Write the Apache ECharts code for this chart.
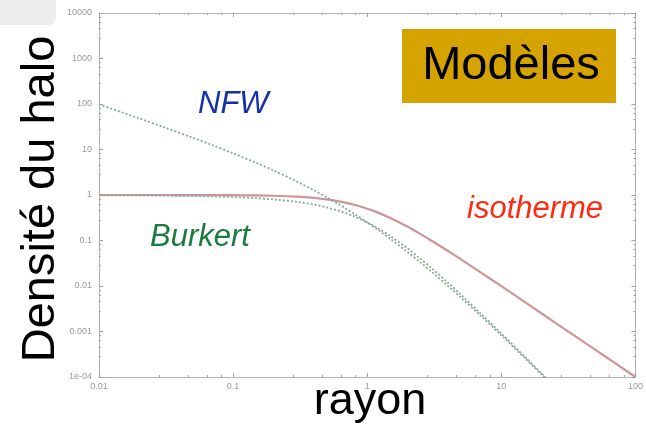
<!DOCTYPE html>
<html>
<head>
<meta charset="utf-8">
<script src="https://cdn.jsdelivr.net/npm/echarts@6/dist/echarts.min.js"></script>
<style>
  html, body { margin: 0; padding: 0; background: #ffffff; }
  #chart { width: 646px; height: 426px; }
</style>
</head>
<body>
<div id="chart"></div>
<script>
// Radii (log scale) at which the density profiles are sampled
const radii = [0.01, 0.02, 0.03, 0.05, 0.07, 0.1, 0.15, 0.2, 0.3, 0.4, 0.5, 0.6, 0.7, 0.8,
               1, 1.2, 1.5, 2, 2.5, 3, 4, 5, 7, 10, 15, 20, 30, 50, 70, 100];

// Isothermal sphere profile
const isothermeValues = [1.0, 1.0, 0.999, 0.998, 0.995, 0.99, 0.978, 0.962, 0.917, 0.862, 0.80, 0.735, 0.671, 0.61,
                         0.5, 0.41, 0.308, 0.2, 0.138, 0.1, 0.0588, 0.0385, 0.02, 0.0099, 0.00442, 0.00249, 0.0011, 0.0004, 0.000204, 0.0001];

// NFW profile (cusp), drops below the axis floor after r ~ 20
const nfwRadii  = [0.01, 0.02, 0.03, 0.05, 0.07, 0.1, 0.15, 0.2, 0.3, 0.4, 0.5, 0.6, 0.7, 0.8,
                   1, 1.2, 1.5, 2, 2.5, 3, 4, 5, 7, 10, 15, 20, 21];
const nfwValues = [98, 48.1, 31.4, 18.1, 12.5, 8.26, 5.04, 3.47, 1.97, 1.28, 0.889, 0.651, 0.494, 0.386,
                   0.25, 0.172, 0.107, 0.0556, 0.0327, 0.0208, 0.01, 0.00556, 0.00223, 0.000826, 0.00026, 0.000113, 0.0000984];

// Burkert profile (core)
const burkertRadii  = [0.01, 0.02, 0.03, 0.05, 0.07, 0.1, 0.15, 0.2, 0.3, 0.4, 0.5, 0.6, 0.7, 0.8,
                       1, 1.2, 1.5, 2, 2.5, 3, 4, 5, 7, 10, 15, 20, 22];
const burkertValues = [0.99, 0.98, 0.97, 0.95, 0.93, 0.90, 0.85, 0.80, 0.706, 0.616, 0.533, 0.46, 0.395, 0.339,
                       0.25, 0.186, 0.123, 0.0667, 0.0395, 0.025, 0.0118, 0.00641, 0.0025, 0.0009, 0.000276, 0.000119, 0.0000896];

// Tick labels, one per decade
const xTickLabels = ['0.01', '0.1', '1', '10', '100'];          // 1e-2 .. 1e2
const yTickLabels = ['1e-04', '0.001', '0.01', '0.1', '1', '10', '100', '1000', '10000']; // 1e-4 .. 1e4

const pair = (xs, ys) => xs.map((x, i) => [x, ys[i]]);
const decade = v => Math.round(Math.log10(v));

const chart = echarts.init(document.getElementById('chart'), null, { renderer: 'canvas' });

const tickFont = { fontFamily: 'Liberation Sans, Arial, sans-serif', fontSize: 9, color: '#9a9a9a' };
const axisLineStyle = { color: '#b4b4b4', width: 1 };
const tickStyle = { color: '#a0a0a0', width: 1 };

function xAxisDef(pos, showLabels) {
  return {
    type: 'log', logBase: 10, min: 0.01, max: 100, position: pos,
    axisLine: { show: true, onZero: false, lineStyle: axisLineStyle },
    axisTick: { show: true, inside: true, length: 4, lineStyle: tickStyle },
    minorTick: { show: true, splitNumber: 5, length: 2, lineStyle: tickStyle },
    splitLine: { show: false },
    axisLabel: {
      show: showLabels, margin: 5, ...tickFont,
      formatter: v => xTickLabels[decade(v) + 2]
    }
  };
}
function yAxisDef(pos, showLabels) {
  return {
    type: 'log', logBase: 10, min: 1e-4, max: 1e4, position: pos,
    axisLine: { show: true, onZero: false, lineStyle: axisLineStyle },
    axisTick: { show: true, inside: true, length: 4, lineStyle: tickStyle },
    minorTick: { show: true, splitNumber: 5, length: 2, lineStyle: tickStyle },
    splitLine: { show: false },
    axisLabel: {
      show: showLabels, margin: 7, ...tickFont,
      formatter: v => yTickLabels[decade(v) + 4]
    }
  };
}

const bigFont = 'Liberation Sans, Arial, Helvetica, sans-serif';

chart.setOption({
  animation: false,
  backgroundColor: '#ffffff',
  grid: { left: 99, top: 13, width: 538, height: 364, containLabel: false },
  xAxis: [xAxisDef('bottom', true), xAxisDef('top', false)],
  yAxis: [yAxisDef('left', true), yAxisDef('right', false)],
  series: [
    {
      name: 'isotherme', type: 'line', xAxisIndex: 0, yAxisIndex: 0,
      data: pair(radii, isothermeValues), smooth: 0.3, showSymbol: false, clip: true,
      lineStyle: { color: '#c98a8e', width: 2.2, opacity: 0.9 }
    },
    {
      name: 'NFW', type: 'line', xAxisIndex: 0, yAxisIndex: 0,
      data: pair(nfwRadii, nfwValues), smooth: 0.3, showSymbol: false, clip: true,
      lineStyle: { color: '#86ad93', width: 1.8, type: [2, 2] }
    },
    {
      name: 'Burkert', type: 'line', xAxisIndex: 0, yAxisIndex: 0,
      data: pair(burkertRadii, burkertValues), smooth: 0.3, showSymbol: false, clip: true,
      lineStyle: { color: '#8aa996', width: 1.8, type: [2, 2] }
    }
  ],
  graphic: [
    { type: 'rect', left: 0, top: 0, z: -1, shape: { width: 56, height: 25, r: [0, 0, 8, 0] }, style: { fill: '#ededed' } },
    { type: 'rect', left: 402, top: 29, shape: { width: 214, height: 74 }, style: { fill: '#d4a300' } },
    { type: 'text', x: 511, y: 66, style: { text: 'Modèles', font: '47px ' + bigFont, fill: '#000000', textAlign: 'center', textVerticalAlign: 'middle' } },
    { type: 'text', x: 198, y: 104, style: { text: 'NFW', font: 'italic 31px ' + bigFont, fill: '#1530a8', textAlign: 'left', textVerticalAlign: 'middle' } },
    { type: 'text', x: 150, y: 237, style: { text: 'Burkert', font: 'italic 31px ' + bigFont, fill: '#1b7a3e', textAlign: 'left', textVerticalAlign: 'middle' } },
    { type: 'text', x: 467, y: 209, style: { text: 'isotherme', font: 'italic 31px ' + bigFont, fill: '#ff2a10', textAlign: 'left', textVerticalAlign: 'middle' } },
    { type: 'text', x: 370, y: 402, style: { text: 'rayon', font: '45px ' + bigFont, fill: '#000000', textAlign: 'center', textVerticalAlign: 'middle' } },
    { type: 'text', x: 41, y: 199, rotation: Math.PI / 2,
      style: { text: 'Densité du halo', font: '47px ' + bigFont, fill: '#000000', textAlign: 'center', textVerticalAlign: 'middle' } }
  ]
});
</script>
</body>
</html>
